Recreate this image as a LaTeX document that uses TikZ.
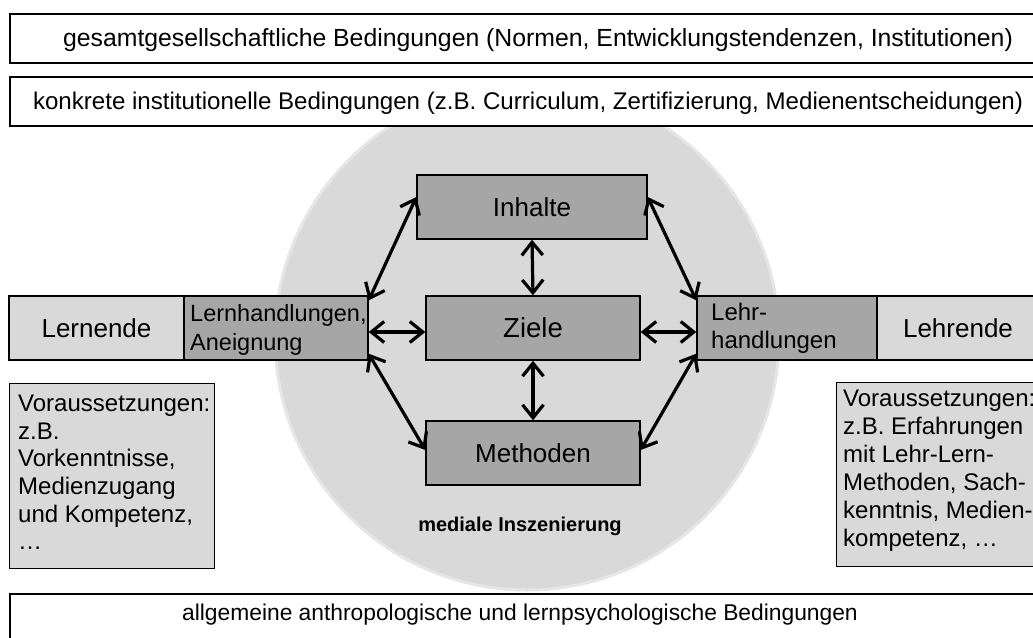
\documentclass[tikz,border=0pt]{standalone}
\usepackage{fontspec}
\setmainfont{Liberation Sans}
\usetikzlibrary{arrows.meta,calc}
\definecolor{lg}{HTML}{D9D9D9}
\definecolor{lgedge}{HTML}{E6E6E6}
\definecolor{dg}{HTML}{A6A6A6}
\begin{document}
\begin{tikzpicture}[x=1pt,y=-1pt,
  frame/.style={draw=black,line width=1.6pt,fill=white,inner sep=0pt,anchor=north west},
  frametext/.style={anchor=base,inner sep=0pt,font=\fontsize{24}{28}\selectfont},
  lightbox/.style={draw=black,line width=1.4pt,fill=lg,inner sep=0pt},
  darkbox/.style={draw=black,line width=1.4pt,fill=dg,inner sep=0pt},
  boxtext/.style={inner sep=0pt,align=left},
  arr/.style={line width=3.2pt,{Straight Barb[length=13pt,width=21pt]}-{Straight Barb[length=13pt,width=21pt]}}
]
\useasboundingbox (0,0) rectangle (1033,637);
\clip (0,0) rectangle (1033,637);
% circle
\node[circle,fill=lg,draw=lgedge,line width=3pt,minimum size=504pt,inner sep=0pt] (circ) at (527,338) {};
% frames
\node[frame,minimum width=1060pt,minimum height=49pt] (ges) at (9,13) {};
\node[frametext,font=\fontsize{24.8}{28}\selectfont] (gesT) at (538,46) {gesamtgesellschaftliche Bedingungen (Normen, Entwicklungstendenzen, Institutionen)};
\node[frame,minimum width=1060pt,minimum height=49pt] (kon) at (9,76) {};
\node[frametext,font=\fontsize{24.1}{28}\selectfont] (konT) at (528,109) {konkrete institutionelle Bedingungen (z.B. Curriculum, Zertifizierung, Medienentscheidungen)};
\node[frame,minimum width=1060pt,minimum height=80pt] (allg) at (9,593) {};
\node[frametext,font=\fontsize{22.8}{27}\selectfont] (allgT) at (520,620) {allgemeine anthropologische und lernpsychologische Bedingungen};
% central boxes
\node[darkbox,minimum width=230pt,minimum height=64pt,font=\fontsize{26}{30}\selectfont] (inh) at (532,207) {Inhalte};
\node[darkbox,minimum width=214pt,minimum height=64pt,font=\fontsize{27.5}{32}\selectfont] (zie) at (533,328) {Ziele};
\node[darkbox,minimum width=214pt,minimum height=64pt,font=\fontsize{26}{30}\selectfont] (met) at (533,453) {Methoden};
% left side
\node[lightbox,minimum width=175pt,minimum height=64pt,font=\fontsize{26}{30}\selectfont] (lern) at (96.5,328) {Lernende};
\node[darkbox,minimum width=184pt,minimum height=64pt] (lernh) at (276,328) {};
\node[boxtext,anchor=west,font=\fontsize{23.5}{29}\selectfont] (lernhT) at (190,329.5) {Lernhandlungen,\\Aneignung};
\node[lightbox,anchor=north west,minimum width=205pt,minimum height=185pt] (vorL) at (9,383) {};
\node[boxtext,anchor=north west,font=\fontsize{24}{27.6}\selectfont] (vorLT) at (18,395) {Voraussetzungen:\\z.B.\\Vorkenntnisse,\\Medienzugang\\und Kompetenz,\\…};
% right side
\node[darkbox,minimum width=180pt,minimum height=64pt] (lehrh) at (787,328) {};
\node[boxtext,anchor=west,font=\fontsize{24}{28}\selectfont] (lehrhT) at (711,328) {Lehr-\\handlungen};
\node[lightbox,anchor=west,minimum width=200pt,minimum height=64pt] (lehr) at (877,328) {};
\node[inner sep=0pt,font=\fontsize{26}{30}\selectfont] (lehrT) at (958,328) {Lehrende};
\node[lightbox,anchor=north west,minimum width=250pt,minimum height=184pt] (vorR) at (836,382) {};
\node[boxtext,anchor=north west,font=\fontsize{24}{28}\selectfont] (vorRT) at (843,390) {Voraussetzungen:\\z.B. Erfahrungen\\mit Lehr-Lern-\\Methoden, Sach-\\kenntnis, Medien-\\kompetenz, …};
% label
\node[inner sep=0pt,anchor=base,font=\bfseries\fontsize{20}{24}\selectfont] (med) at (520,531) {mediale Inszenierung};
% arrows
\draw[arr] (inh.south) -- (zie.north);
\draw[arr] (zie.south) -- (met.north);
\draw[arr] ([yshift=-4pt]lernh.east) -- ([yshift=-4pt]zie.west);
\draw[arr] ([yshift=-4pt]zie.east) -- ([yshift=-4pt]lehrh.west);
\draw[arr] ([yshift=-5pt]lernh.north east) -- ([yshift=10pt]inh.west);
\draw[arr] ([yshift=10pt]inh.east) -- ([yshift=-5pt]lehrh.north west);
\draw[arr] ([yshift=7pt]lernh.south east) -- ([yshift=3pt]met.west);
\draw[arr] ([yshift=3pt]met.east) -- ([yshift=7pt]lehrh.south west);
\end{tikzpicture}
\end{document}
